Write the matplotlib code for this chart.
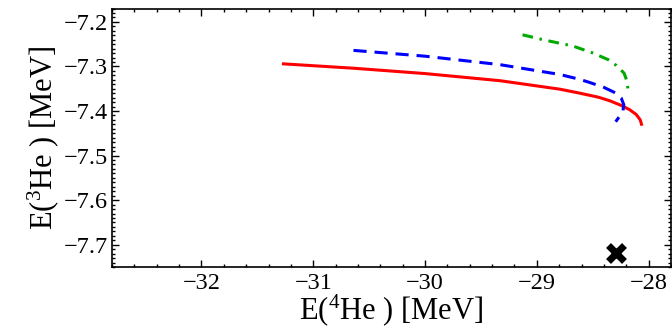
import matplotlib
matplotlib.use("Agg")
import matplotlib.pyplot as plt
from matplotlib.ticker import MultipleLocator

plt.rcParams['font.family'] = ['Liberation Serif', 'DejaVu Serif']
plt.rcParams['mathtext.fontset'] = 'custom'
plt.rcParams['mathtext.rm'] = 'Liberation Serif'
plt.rcParams['mathtext.default'] = 'regular'

# Red solid curve
red_x = [-31.28, -30.64, -30.0, -29.33, -28.795, -28.616, -28.45, -28.348, -28.25, -28.17, -28.11, -28.075, -28.06]
red_y = [-7.294, -7.304, -7.316, -7.332, -7.351, -7.360, -7.369, -7.377, -7.387, -7.397, -7.408, -7.420, -7.433]

# Blue dashed curve
blue_x = [-30.64, -30.0, -29.33, -28.795, -28.616, -28.527, -28.40, -28.30, -28.245, -28.222, -28.23, -28.26, -28.295]
blue_y = [-7.264, -7.277, -7.296, -7.318, -7.329, -7.336, -7.347, -7.359, -7.371, -7.386, -7.400, -7.412, -7.424]

# Green dash-dot curve
green_x = [-29.128, -28.946, -28.795, -28.68, -28.497, -28.36, -28.288, -28.22, -28.195, -28.185]
green_y = [-7.229, -7.240, -7.248, -7.254, -7.270, -7.285, -7.298, -7.315, -7.332, -7.351]

# Experimental point
exp_x = [-28.29]
exp_y = [-7.719]

xticks = [-32, -31, -30, -29, -28]
yticks = [-7.2, -7.3, -7.4, -7.5, -7.6, -7.7]

fig = plt.figure(figsize=(6.72, 3.36), dpi=100)
ax = fig.add_axes([0.1667, 0.2054, 0.8318, 0.7693])

ax.plot(red_x, red_y, color='#ff0000', lw=2.2, solid_capstyle='butt')
ax.plot(blue_x, blue_y, color='#0000ff', lw=2.2, linestyle=(0, (4.3, 2.6)))
ax.plot(green_x, green_y, color='#00aa00', lw=2.2, linestyle=(0, (3.5, 2.2, 0.8, 2.2)))
ax.plot(exp_x, exp_y, linestyle='none', marker='x', color='black', ms=12, mew=5)

ax.set_xlim(-32.8, -27.8)
ax.set_ylim(-7.75, -7.17)
ax.set_xticks(xticks)
ax.set_yticks(yticks)
ax.set_xticklabels([f"\u2212{abs(v):g}" for v in xticks])
ax.set_yticklabels([f"\u2212{abs(v):.1f}" for v in yticks])
ax.xaxis.set_minor_locator(MultipleLocator(0.2))
ax.yaxis.set_minor_locator(MultipleLocator(0.01))
ax.tick_params(which='both', direction='in', top=True, right=True, labelsize=17.5, width=1)
ax.tick_params(which='major', length=5)
ax.tick_params(axis='x', which='major', pad=4)
ax.tick_params(axis='y', which='major', pad=3)
ax.tick_params(which='minor', length=2.5)
for s in ax.spines.values():
    s.set_linewidth(1.2)

ax.set_xlabel(r'E($^{4}$He ) [MeV]', fontsize=22, labelpad=-1)
ax.set_ylabel(r'E($^{3}$He ) [MeV]', fontsize=22, labelpad=2)

fig.savefig('out.png', dpi=100)
